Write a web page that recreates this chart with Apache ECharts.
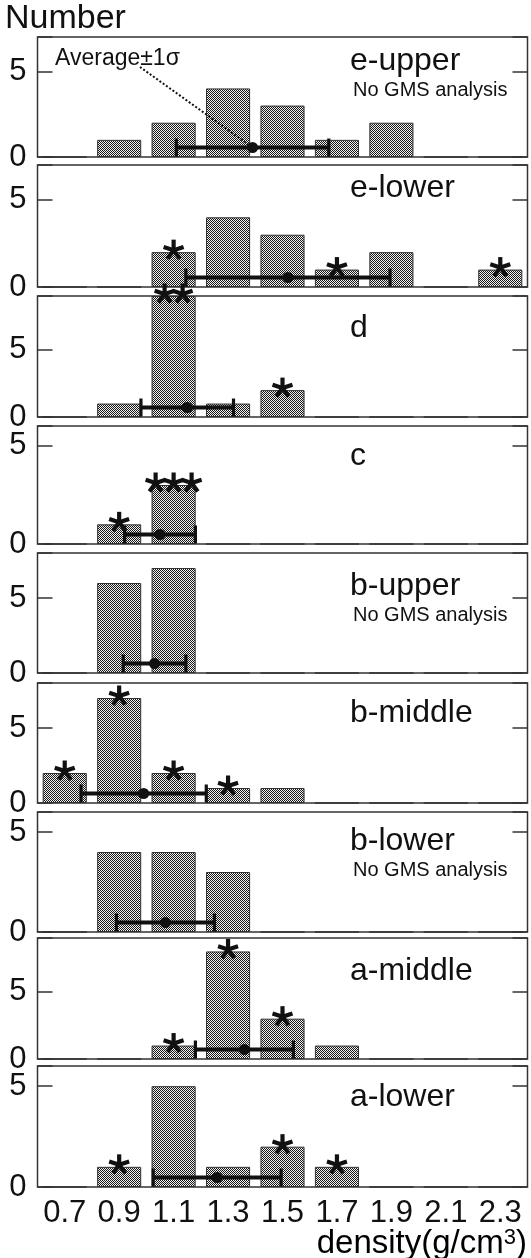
<!DOCTYPE html>
<html><head><meta charset="utf-8">
<script src="https://cdn.jsdelivr.net/npm/echarts@6/dist/echarts.min.js"></script>
<style>html,body{margin:0;padding:0;background:#fff}#c{width:531px;height:1258px}</style>
</head><body><div id="c"></div><script>
// ---------- data ----------
const densityLabels = ['0.7','0.9','1.1','1.3','1.5','1.7','1.9','2.1','2.3'];
const panelNames = ['e-upper','e-lower','d','c','b-upper','b-middle','b-lower','a-middle','a-lower'];
const noGMS = [true,false,false,false,true,false,true,false,false];
const yMax = [7,7,9,6,8,8,6,9,6];
const countsEUpper  = [0,1,2,4,3,1,2,0,0];
const countsELower  = [0,0,2,4,3,1,2,0,1];
const countsD       = [0,1,9,1,2,0,0,0,0];
const countsC       = [0,1,3,0,0,0,0,0,0];
const countsBUpper  = [0,6,7,0,0,0,0,0,0];
const countsBMiddle = [2,7,2,1,1,0,0,0,0];
const countsBLower  = [0,4,4,3,0,0,0,0,0];
const countsAMiddle = [0,0,1,8,3,1,0,0,0];
const countsALower  = [0,1,5,1,2,1,0,0,0];
const starsEUpper  = [0,0,0,0,0,0,0,0,0];
const starsELower  = [0,0,1,0,0,1,0,0,1];
const starsD       = [0,0,2,0,1,0,0,0,0];
const starsC       = [0,1,3,0,0,0,0,0,0];
const starsBUpper  = [0,0,0,0,0,0,0,0,0];
const starsBMiddle = [1,1,1,1,0,0,0,0,0];
const starsBLower  = [0,0,0,0,0,0,0,0,0];
const starsAMiddle = [0,0,1,1,1,0,0,0,0];
const starsALower  = [0,1,0,0,1,1,0,0,0];
const meanDensity = [1.39,1.52,1.15,1.05,1.03,0.99,1.07,1.36,1.26];
const sdDensity   = [0.28,0.375,0.17,0.13,0.115,0.23,0.18,0.18,0.235];
const densityMin = 0.6, densityMax = 2.4;

const counts = [countsEUpper,countsELower,countsD,countsC,countsBUpper,countsBMiddle,countsBLower,countsAMiddle,countsALower];
const stars = [starsEUpper,starsELower,starsD,starsC,starsBUpper,starsBMiddle,starsBLower,starsAMiddle,starsALower];

// ---------- layout ----------
const gridTops = [37,165,296,426,553,683,812,938,1066];
const gridHeights = [120,122,121,118,120,120,120,121,121];
const nameOffsets = [27,26,35,33,36,33,32,36,34];
const subOffsets = [55,0,0,0,64,0,60,0,0];
const FONT = '"Liberation Sans", Arial, Helvetica, sans-serif';
const INK = '#111';

// checker pattern
const pc = document.createElement('canvas');
pc.width = 2; pc.height = 2;
const pctx = pc.getContext('2d');
pctx.fillStyle = '#f2f2f2'; pctx.fillRect(0,0,2,2);
pctx.fillStyle = '#181818'; pctx.fillRect(0,0,1,1); pctx.fillRect(1,1,1,1);
const pattern = { image: pc, repeat: 'repeat' };

const chart = echarts.init(document.getElementById('c'), null, {renderer:'canvas'});

const grids = [], xAxes = [], yAxes = [], series = [], graphics = [];

function asteriskShapes(cx, cy) {
  const r = 10.5, out = [];
  const angles = [-90, -18, -162, 54, 126];
  angles.forEach(a => {
    const rad = a * Math.PI / 180;
    out.push({ type:'line', shape:{x1:cx, y1:cy, x2:cx + r*Math.cos(rad), y2:cy + r*Math.sin(rad)},
      style:{stroke:'#111', lineWidth:4.2, lineCap:'butt'} });
  });
  return out;
}

for (let i = 0; i < 9; i++) {
  const last = i === 8;
  grids.push({ left: 37.5, right: 3.5, top: gridTops[i], height: gridHeights[i], show: true,
    borderColor: '#333', borderWidth: 1.5, backgroundColor: 'transparent' });
  xAxes.push({ type:'category', gridIndex:i, data: densityLabels, boundaryGap:true,
    axisLine:{show:false}, axisTick:{show:false}, splitLine:{show:false},
    axisLabel:{ show:last, interval:0, hideOverlap:false, fontSize:31, color:INK, fontFamily:FONT, margin:11 } });
  xAxes.push({ type:'value', gridIndex:i, min:densityMin, max:densityMax, show:false });
  const yCommon = { type:'value', gridIndex:i, min:0, max:yMax[i], interval:5,
    axisLine:{show:false}, splitLine:{show:false},
    axisTick:{show:true, inside:true, length:15, lineStyle:{color:'#333', width:1.5}} };
  yAxes.push(Object.assign({}, yCommon, { position:'left',
    axisLabel:{ fontSize:31, color:INK, fontFamily:FONT, margin:11,
      formatter: v => (v === 0 || v === 5) ? String(v) : '' } }));
  yAxes.push(Object.assign({}, yCommon, { position:'right', axisLabel:{show:false} }));

  series.push({ type:'bar', xAxisIndex:2*i, yAxisIndex:2*i, data: counts[i],
    barCategoryGap:'19%', silent:true, animation:false,
    itemStyle:{ color: pattern, borderColor:'#333', borderWidth:1 } });

  const starData = [];
  stars[i].forEach((n, k) => { if (n > 0) starData.push([k, counts[i][k], n]); });
  series.push({ type:'custom', xAxisIndex:2*i, yAxisIndex:2*i, data: starData, clip:false,
    animation:false, silent:true, z:5,
    renderItem: (params, api) => {
      const p = api.coord([api.value(0), api.value(1)]);
      const n = api.value(2), gap = 18;
      const children = [];
      for (let s = 0; s < n; s++) {
        const cx = p[0] + (s - (n - 1) / 2) * gap;
        children.push(...asteriskShapes(cx, p[1] - 2));
      }
      return { type:'group', children };
    } });

  const idx = i;
  series.push({ type:'custom', xAxisIndex:2*i+1, yAxisIndex:2*i, data: [[meanDensity[i], sdDensity[i]]],
    clip:false, animation:false, silent:true, z:6,
    renderItem: (params, api) => {
      const m = api.value(0), sd = api.value(1);
      const base = api.coord([m, 0]);
      const y = base[1] - 9.5;
      const xl = api.coord([m - sd, 0])[0], xr = api.coord([m + sd, 0])[0];
      const children = [
        { type:'line', shape:{x1:xl, y1:y, x2:xr, y2:y}, style:{stroke:'#111', lineWidth:4} },
        { type:'line', shape:{x1:xl, y1:y-9, x2:xl, y2:y+9}, style:{stroke:'#111', lineWidth:3.2} },
        { type:'line', shape:{x1:xr, y1:y-9, x2:xr, y2:y+9}, style:{stroke:'#111', lineWidth:3.2} },
        { type:'circle', shape:{cx:base[0], cy:y, r:5.5}, style:{fill:'#111'} }
      ];
      if (idx === 0) {
        children.push({ type:'line', shape:{x1:140, y1:67, x2:base[0], y2:y},
          style:{stroke:'#111', lineWidth:2, lineDash:[2,2]} });
      }
      return { type:'group', children };
    } });

  graphics.push({ type:'text', left:350, top: gridTops[i] + nameOffsets[i] - 19,
    style:{ text: panelNames[i], font: '32px ' + FONT, fill: INK } });
  if (noGMS[i]) {
    graphics.push({ type:'text', left:353, top: gridTops[i] + subOffsets[i] - 12,
      style:{ text:'No GMS analysis', font:'20px ' + FONT, fill: INK } });
  }
}

graphics.push({ type:'text', left:5, top:2, style:{ text:'Number', font:'34px ' + FONT, fill:INK } });
graphics.push({ type:'text', left:55, top:47, style:{ text:'Average±1σ', font:'23px ' + FONT, fill:INK } });
graphics.push({ type:'text', right:4, top:1227, style:{
  text:'{a|density(g/cm}{s|3}{a|)}',
  rich:{ a:{ fontSize:33, fontFamily:FONT, color:INK }, s:{ fontSize:22, fontFamily:FONT, color:INK, verticalAlign:'top', padding:[0,0,12,0] } } } });

chart.setOption({ animation:false, grid:grids, xAxis:xAxes, yAxis:yAxes, series, graphic:graphics });
</script></body></html>
